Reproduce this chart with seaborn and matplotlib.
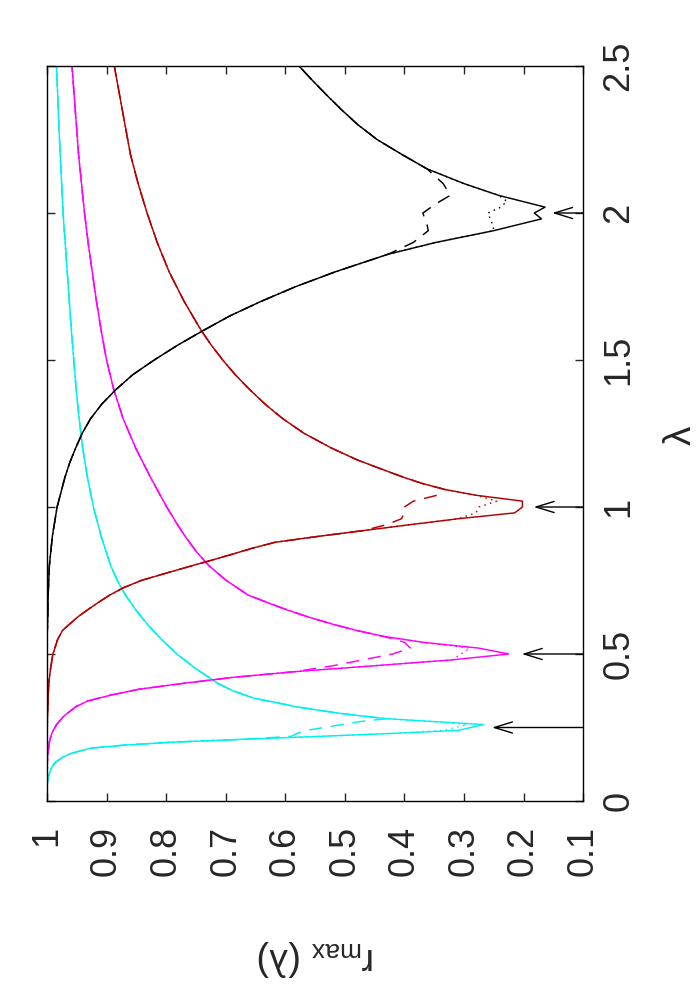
import matplotlib
matplotlib.use("Agg")
import matplotlib.pyplot as plt
import seaborn as sns

# r_max(lambda): a lambda grid and the solid curve for each colour,
# plus the points near the dip where the dashed / dotted variants leave the solid one.
CYAN_LAM = [0.05, 0.08, 0.11, 0.13, 0.15, 0.16, 0.17, 0.18, 0.19, 0.2,
            0.21, 0.22, 0.23, 0.24, 0.26, 0.27, 0.28, 0.29, 0.3, 0.32,
            0.35, 0.375, 0.4, 0.45, 0.5, 0.55, 0.6, 0.65, 0.7, 0.75,
            0.8, 0.9, 1.0, 1.1, 1.2, 1.3, 1.4, 1.6, 1.8, 2.0, 2.25, 2.5]
CYAN_SOLID = [1.0, 0.998, 0.993, 0.987, 0.973, 0.962, 0.945, 0.925, 0.87, 0.79,
              0.67, 0.54, 0.42, 0.31, 0.267, 0.35, 0.43, 0.475, 0.515, 0.58,
              0.653, 0.688, 0.713, 0.75, 0.782, 0.808, 0.831, 0.851, 0.868, 0.882,
              0.893, 0.909, 0.922, 0.932, 0.94, 0.946, 0.951, 0.959, 0.966, 0.973, 0.979, 0.984]
CYAN_DASHED_LAM = [0.22, 0.23, 0.24, 0.26, 0.27]
CYAN_DASHED_R = [0.59, 0.58, 0.565, 0.505, 0.475]
CYAN_DOTTED_LAM = [0.24, 0.26]
CYAN_DOTTED_R = [0.335, 0.295]

MAGENTA_LAM = [0.1, 0.15, 0.2, 0.23, 0.26, 0.29, 0.32, 0.34, 0.36, 0.38,
               0.4, 0.42, 0.44, 0.46, 0.48, 0.5, 0.52, 0.54, 0.56, 0.58,
               0.6, 0.625, 0.65, 0.675, 0.7, 0.75, 0.8, 0.85, 0.9, 0.95,
               1.0, 1.1, 1.2, 1.3, 1.4, 1.5, 1.6, 1.7, 1.8, 1.9, 2.0, 2.2, 2.5]
MAGENTA_SOLID = [1.0, 0.999, 0.996, 0.992, 0.984, 0.971, 0.952, 0.932, 0.893, 0.846,
                 0.772, 0.69, 0.584, 0.451, 0.32, 0.225, 0.275, 0.37, 0.435, 0.48,
                 0.518, 0.56, 0.597, 0.63, 0.662, 0.699, 0.728, 0.75, 0.768, 0.784,
                 0.799, 0.826, 0.851, 0.872, 0.888, 0.9, 0.909, 0.917, 0.924, 0.931, 0.937, 0.947, 0.958]
MAGENTA_DASHED_LAM = [0.46, 0.48, 0.5, 0.52, 0.54]
MAGENTA_DASHED_R = [0.52, 0.47, 0.42, 0.39, 0.40]
MAGENTA_DOTTED_LAM = [0.5, 0.52]
MAGENTA_DOTTED_R = [0.305, 0.29]

RED_LAM = [0.15, 0.2, 0.3, 0.4, 0.45, 0.5,
           0.55, 0.58, 0.6, 0.625, 0.65, 0.675, 0.7, 0.725, 0.75, 0.775,
           0.8, 0.82, 0.84, 0.86, 0.88, 0.9, 0.92, 0.94, 0.96, 0.98,
           1.0, 1.02, 1.04, 1.06, 1.08, 1.1, 1.13, 1.16, 1.2, 1.25,
           1.3, 1.35, 1.4, 1.45, 1.5, 1.55, 1.6, 1.7, 1.8, 1.9,
           2.0, 2.1, 2.2, 2.3, 2.4, 2.5]
RED_SOLID = [1.0, 1.0, 0.999, 0.997, 0.994, 0.99,
             0.982, 0.974, 0.963, 0.949, 0.932, 0.914, 0.895, 0.872, 0.842, 0.800,
             0.757, 0.722, 0.688, 0.655, 0.617, 0.545, 0.468, 0.39, 0.31, 0.215,
             0.202, 0.202, 0.28, 0.333, 0.37, 0.40, 0.44, 0.479, 0.522, 0.568,
             0.604, 0.634, 0.66, 0.684, 0.705, 0.724, 0.741, 0.77, 0.795, 0.815,
             0.832, 0.847, 0.86, 0.869, 0.878, 0.887]
RED_DASHED_LAM = [0.94, 0.96, 0.98, 1.0, 1.02, 1.04]
RED_DASHED_R = [0.43, 0.405, 0.40, 0.40, 0.385, 0.345]
RED_DOTTED_LAM = [0.98, 1.0, 1.02]
RED_DOTTED_R = [0.28, 0.275, 0.245]

BLACK_LAM = [0.55, 0.6, 0.7, 0.8, 0.9, 1.0,
             1.1, 1.15, 1.2, 1.25, 1.3, 1.35, 1.4, 1.45, 1.5,
             1.55, 1.6, 1.65, 1.7, 1.75, 1.8,
             1.86, 1.9, 1.94, 1.96, 1.98, 2.0, 2.02, 2.04, 2.06,
             2.1, 2.15, 2.2, 2.25, 2.3, 2.35, 2.4, 2.45, 2.5]
BLACK_SOLID = [1.0, 0.999, 0.998, 0.996, 0.991, 0.983,
               0.970, 0.962, 0.952, 0.941, 0.927, 0.908, 0.884, 0.856, 0.820,
               0.781, 0.738, 0.693, 0.640, 0.582, 0.516,
               0.427, 0.347, 0.25, 0.21, 0.170, 0.182, 0.164, 0.203, 0.242,
               0.300, 0.362, 0.405, 0.446, 0.478, 0.505, 0.530, 0.554, 0.577]
BLACK_DASHED_LAM = [1.9, 1.94, 1.96, 1.98, 2.0, 2.02, 2.04, 2.06, 2.1]
BLACK_DASHED_R = [0.385, 0.36, 0.362, 0.366, 0.369, 0.355, 0.34, 0.323, 0.335]
BLACK_DOTTED_LAM = [1.96, 1.98, 2.0, 2.02, 2.04]
BLACK_DOTTED_R = [0.252, 0.256, 0.26, 0.238, 0.228]

ARROW_LAM = [0.25, 0.5, 1.0, 2.0]
ARROW_TIP = [0.253, 0.203, 0.183, 0.152]

R_TICKS = [1, 0.9, 0.8, 0.7, 0.6, 0.5, 0.4, 0.3, 0.2, 0.1]
R_TICK_LABELS = ["1", "0.9", "0.8", "0.7", "0.6", "0.5", "0.4", "0.3", "0.2", "0.1"]
LAM_TICKS = [0, 0.5, 1, 1.5, 2, 2.5]
LAM_TICK_LABELS = ["0", "0.5", "1", "1.5", "2", "2.5"]

CURVES = [
    ("#00f0f0", CYAN_LAM, CYAN_SOLID, (CYAN_DASHED_LAM, CYAN_DASHED_R), (CYAN_DOTTED_LAM, CYAN_DOTTED_R)),
    ("#ff00ff", MAGENTA_LAM, MAGENTA_SOLID, (MAGENTA_DASHED_LAM, MAGENTA_DASHED_R),
     (MAGENTA_DOTTED_LAM, MAGENTA_DOTTED_R)),
    ("#b40000", RED_LAM, RED_SOLID, (RED_DASHED_LAM, RED_DASHED_R), (RED_DOTTED_LAM, RED_DOTTED_R)),
    ("#000000", BLACK_LAM, BLACK_SOLID, (BLACK_DASHED_LAM, BLACK_DASHED_R), (BLACK_DOTTED_LAM, BLACK_DOTTED_R)),
]


def with_override(lam: list[float], solid: list[float], override: tuple[list[float], list[float]]) -> list[float]:
    # the variant follows the solid curve except at the listed lambda points
    replaced = dict(zip(*override))
    return [replaced.get(l, r) for l, r in zip(lam, solid)]


def main() -> None:
    sns.set_style("ticks")
    plt.rcParams["font.family"] = ["Liberation Sans", "DejaVu Sans"]
    plt.rcParams["mathtext.fontset"] = "custom"
    plt.rcParams["mathtext.rm"] = "Liberation Sans"
    plt.rcParams["mathtext.it"] = "Liberation Sans:italic"

    fig = plt.figure(figsize=(7, 10), dpi=100)
    ax = fig.add_axes([0.0671, 0.199, 0.766, 0.735])

    lw = 1.05
    for color, lam, solid, dashed, dotted in CURVES:
        sns.lineplot(x=with_override(lam, solid, dotted), y=lam, sort=False, estimator=None,
                     color=color, linewidth=lw, linestyle=(0, (1, 3)), ax=ax)
        sns.lineplot(x=with_override(lam, solid, dashed), y=lam, sort=False, estimator=None,
                     color=color, linewidth=lw, linestyle=(0, (9, 6)), ax=ax)
        sns.lineplot(x=solid, y=lam, sort=False, estimator=None, color=color, linewidth=lw, ax=ax)

    for lam0, tip in zip(ARROW_LAM, ARROW_TIP):
        ax.annotate("", xy=(tip, lam0), xytext=(0.1, lam0),
                    arrowprops=dict(arrowstyle="->,head_length=0.65,head_width=0.2", color="black",
                                    lw=1.0, shrinkA=0, shrinkB=0, mutation_scale=20))

    ax.set_xlim(1, 0.1)
    ax.set_ylim(0, 2.5)
    ax.set_xticks(R_TICKS)
    ax.set_xticklabels(R_TICK_LABELS, rotation=90)
    ax.set_yticks(LAM_TICKS)
    ax.set_yticklabels(LAM_TICK_LABELS, rotation=90, va="center")
    ax.set_xlabel("")
    ax.set_ylabel("")

    ax.tick_params(axis="x", direction="in", length=6, width=1, bottom=True, top=True,
                   labelsize=26, pad=18)
    ax.tick_params(axis="y", direction="in", length=6, width=1, left=True, right=True,
                   labelleft=False, labelright=True, labelsize=26, pad=13)
    for spine in ax.spines.values():
        spine.set_visible(True)
        spine.set_linewidth(1.0)
        spine.set_color("black")

    fig.text(0.972, 0.565, "λ", rotation=90, ha="center", va="center", fontsize=28)
    fig.text(0.452, 0.042, r"r$_{\mathrm{max}}$ (λ)", rotation=180, ha="center", va="center", fontsize=27)

    fig.savefig("out.png", dpi=100)
    plt.close(fig)


if __name__ == "__main__":
    main()
